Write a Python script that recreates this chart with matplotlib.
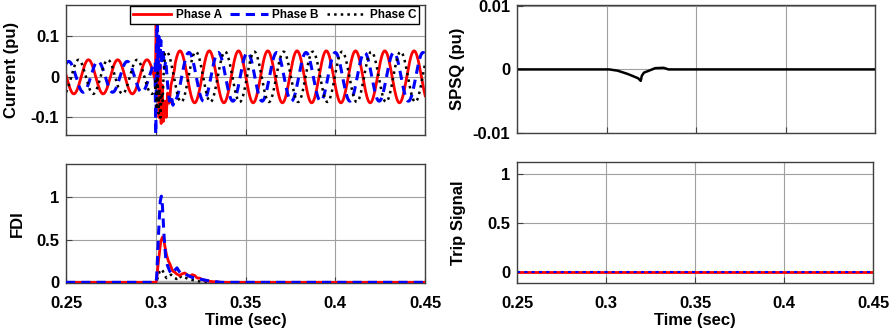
import numpy as np
import matplotlib
matplotlib.use('Agg')
import matplotlib.pyplot as plt

# font setup (bold arial-like, matlab look)
plt.rcParams['font.family'] = ['Liberation Sans', 'DejaVu Sans']
plt.rcParams['font.weight'] = 'bold'
plt.rcParams['axes.labelweight'] = 'bold'

# %%
# waveform readings (pu, sec) - phases A, B, C
period = 0.0163
pre_amp = [0.042, 0.038, 0.042]
pre_peak = [0.2625, 0.2515, 0.2570]
post_amp = [0.064, 0.060, 0.062]
post_peak = [0.3135, 0.3185, 0.3060]

# fault transient points
trans_t_a = [0.2998, 0.3002, 0.3008, 0.3013, 0.3018, 0.3024, 0.3030, 0.3036, 0.3042,
             0.3050, 0.3058, 0.3066, 0.3075, 0.3085, 0.3096, 0.3105]
trans_a = [0.00, 0.135, -0.02, 0.09, -0.10, 0.03, -0.115, -0.02, -0.11,
           -0.06, -0.10, -0.04, -0.065, -0.02, 0.00, 0.02]
trans_t_b = [0.2997, 0.3000, 0.3004, 0.3008, 0.3012, 0.3017, 0.3022, 0.3028, 0.3034,
             0.3040, 0.3048, 0.3056, 0.3066, 0.3076, 0.3086, 0.3096]
trans_b = [-0.02, -0.16, 0.05, 0.19, 0.00, 0.10, 0.02, 0.09, 0.03,
           0.07, 0.02, 0.04, -0.02, -0.06, -0.045, -0.07]
trans_t_c = [0.2998, 0.3001, 0.3005, 0.3010, 0.3015, 0.3020, 0.3026, 0.3032, 0.3038,
             0.3044, 0.3049]
trans_c = [-0.01, -0.03, -0.08, 0.01, -0.09, -0.03, -0.10, -0.04, -0.06,
           0.01, 0.035]

# FDI
fdi_t_a = [0.25, 0.3000, 0.3004, 0.3015, 0.3028, 0.3037, 0.3046, 0.3059, 0.3070, 0.3078,
           0.3087, 0.3096, 0.3106, 0.3115, 0.3124, 0.3133, 0.3147, 0.3161, 0.3175, 0.3189,
           0.3203, 0.3217, 0.3231, 0.3244, 0.3262, 0.3281, 0.3310, 0.3337, 0.3374, 0.45]
fdi_a = [0, 0, 0.02, 0.25, 0.48, 0.53, 0.48, 0.33, 0.25, 0.22,
         0.17, 0.13, 0.12, 0.10, 0.09, 0.08, 0.10, 0.11, 0.09, 0.07,
         0.09, 0.08, 0.05, 0.05, 0.03, 0.02, 0.01, 0.005, 0, 0]
fdi_t_b = [0.25, 0.3000, 0.3005, 0.3015, 0.3025, 0.3031, 0.3037, 0.3046, 0.3055, 0.3065,
           0.3078, 0.3090, 0.3105, 0.3118, 0.3130, 0.3145, 0.3160, 0.3180, 0.3200, 0.3225,
           0.3255, 0.3290, 0.3330, 0.3360, 0.45]
fdi_b = [0, 0, 0.05, 0.55, 0.95, 1.01, 0.9, 0.55, 0.30, 0.20,
         0.13, 0.10, 0.14, 0.17, 0.13, 0.10, 0.10, 0.08, 0.06, 0.05,
         0.035, 0.02, 0.01, 0, 0]
fdi_t_c = [0.25, 0.3002, 0.3010, 0.3020, 0.3031, 0.3040, 0.3050, 0.3060, 0.3070, 0.3085,
           0.3100, 0.3115, 0.3130, 0.3145, 0.3160, 0.3180, 0.3200, 0.3230, 0.3260, 0.3300, 0.45]
fdi_c = [0, 0, 0.05, 0.12, 0.155, 0.13, 0.08, 0.05, 0.07, 0.09,
         0.06, 0.04, 0.08, 0.05, 0.06, 0.04, 0.03, 0.015, 0.005, 0, 0]

# SPSQ
spsq_t = [0.25, 0.3000, 0.3013, 0.3060, 0.3115, 0.3150, 0.3175, 0.3189, 0.3195,
          0.3207, 0.3235, 0.3270, 0.3317, 0.3344, 0.45]
spsq = [0, 0, 0, -0.0002, -0.0007, -0.0011, -0.0014, -0.0018, -0.0010,
        -0.0005, -0.0002, 0.0002, 0.00025, 0, 0]

# trip signal
trip_t = [0.25, 0.45]
trip_a = [0, 0]
trip_b = [0, 0]

xticks = [0.25, 0.3, 0.35, 0.4, 0.45]
xticklabels = ['0.25', '0.3', '0.35', '0.4', '0.45']

# %%
# build current traces: pre sine + transient + post sine
def build_phase(i, tt, vv):
    t_pre = np.arange(0.25, tt[0], 0.0001)
    v_pre = pre_amp[i] * np.cos(2 * np.pi * (t_pre - pre_peak[i]) / period)
    t_post = np.arange(tt[-1] + 0.0002, 0.4501, 0.0001)
    v_post = post_amp[i] * np.cos(2 * np.pi * (t_post - post_peak[i]) / period)
    return np.concatenate([t_pre, tt, t_post]), np.concatenate([v_pre, vv, v_post])

ta, ia = build_phase(0, trans_t_a, trans_a)
tb, ib = build_phase(1, trans_t_b, trans_b)
tc, ic = build_phase(2, trans_t_c, trans_c)

red = '#ff0000'
blue = '#0000ff'
frame = '#404040'

fig = plt.figure(figsize=(8.92, 3.33), dpi=100)
ax1 = fig.add_axes([0.074, 0.595, 0.4025, 0.390])
ax2 = fig.add_axes([0.074, 0.150, 0.4025, 0.357])
ax3 = fig.add_axes([0.580, 0.600, 0.4015, 0.385])
ax4 = fig.add_axes([0.580, 0.150, 0.3990, 0.363])

# current
ax1.plot(ta, ia, color=red, lw=2.0, label='Phase A')
ax1.plot(tb, ib, color=blue, lw=2.2, dashes=(3, 2), label='Phase B')
ax1.plot(tc, ic, color='black', lw=1.8, ls=':', label='Phase C')
ax1.set_ylim(-0.143, 0.177)
ax1.set_yticks([-0.1, 0, 0.1])
ax1.set_yticklabels(['-0.1', '0', '0.1'])
ax1.set_ylabel('Current (pu)', fontsize=12)
ax1.yaxis.set_label_coords(-0.13, 0.5)
leg = ax1.legend(loc='upper right', bbox_to_anchor=(1.0, 1.04), ncol=3, fontsize=8.5,
                 handlelength=3.2, columnspacing=0.7, handletextpad=0.4, borderpad=0.25,
                 fancybox=False, framealpha=1, edgecolor='black')
leg.get_frame().set_linewidth(1.0)

# FDI
ax2.plot([0.25, 0.45], [0, 0], color='#b0b0b0', lw=2.5, zorder=1)
ax2.plot(fdi_t_c, fdi_c, color='black', lw=1.8, ls=':', zorder=2)
ax2.plot(fdi_t_a, fdi_a, color=red, lw=2.0, zorder=3)
ax2.plot(fdi_t_b, fdi_b, color=blue, lw=2.2, dashes=(3, 2), zorder=4)
ax2.set_ylim(-0.008, 1.385)
ax2.set_yticks([0, 0.5, 1])
ax2.set_yticklabels(['0', '0.5', '1'])
ax2.set_ylabel('FDI', fontsize=12)
ax2.yaxis.set_label_coords(-0.115, 0.5)

# SPSQ
ax3.plot(spsq_t, spsq, color='black', lw=1.8)
ax3.set_ylim(-0.01, 0.0101)
ax3.set_yticks([-0.01, 0, 0.01])
ax3.set_yticklabels(['-0.01', '0', '0.01'])
ax3.set_ylabel('SPSQ (pu)', fontsize=12)
ax3.yaxis.set_label_coords(-0.145, 0.5)

# trip signal
ax4.plot(trip_t, trip_a, color=red, lw=2.0)
ax4.plot(trip_t, trip_b, color=blue, lw=1.5, dashes=(1.5, 2))
ax4.set_ylim(-0.115, 1.12)
ax4.set_yticks([0, 0.5, 1])
ax4.set_yticklabels(['0', '0.5', '1'])
ax4.set_ylabel('Trip Signal', fontsize=12)
ax4.yaxis.set_label_coords(-0.145, 0.5)

for ax in [ax1, ax2, ax3, ax4]:
    ax.set_xlim(0.25, 0.45)
    ax.set_xticks(xticks)
    ax.grid(True, color='#a0a0a0', lw=0.8)
    ax.set_axisbelow(True)
    ax.tick_params(direction='in', length=4, width=0.8, color=frame, labelsize=12, pad=5)
    for s in ax.spines.values():
        s.set_color(frame)
        s.set_linewidth(1.0)

for ax in [ax1, ax3]:
    ax.set_xticklabels([])
for ax in [ax2, ax4]:
    ax.set_xticklabels(xticklabels)
    ax.tick_params(axis='x', pad=9)
    ax.set_xlabel('Time (sec)', fontsize=12)
    ax.xaxis.set_label_coords(0.5, -0.25)

fig.savefig('out.png', dpi=100)
